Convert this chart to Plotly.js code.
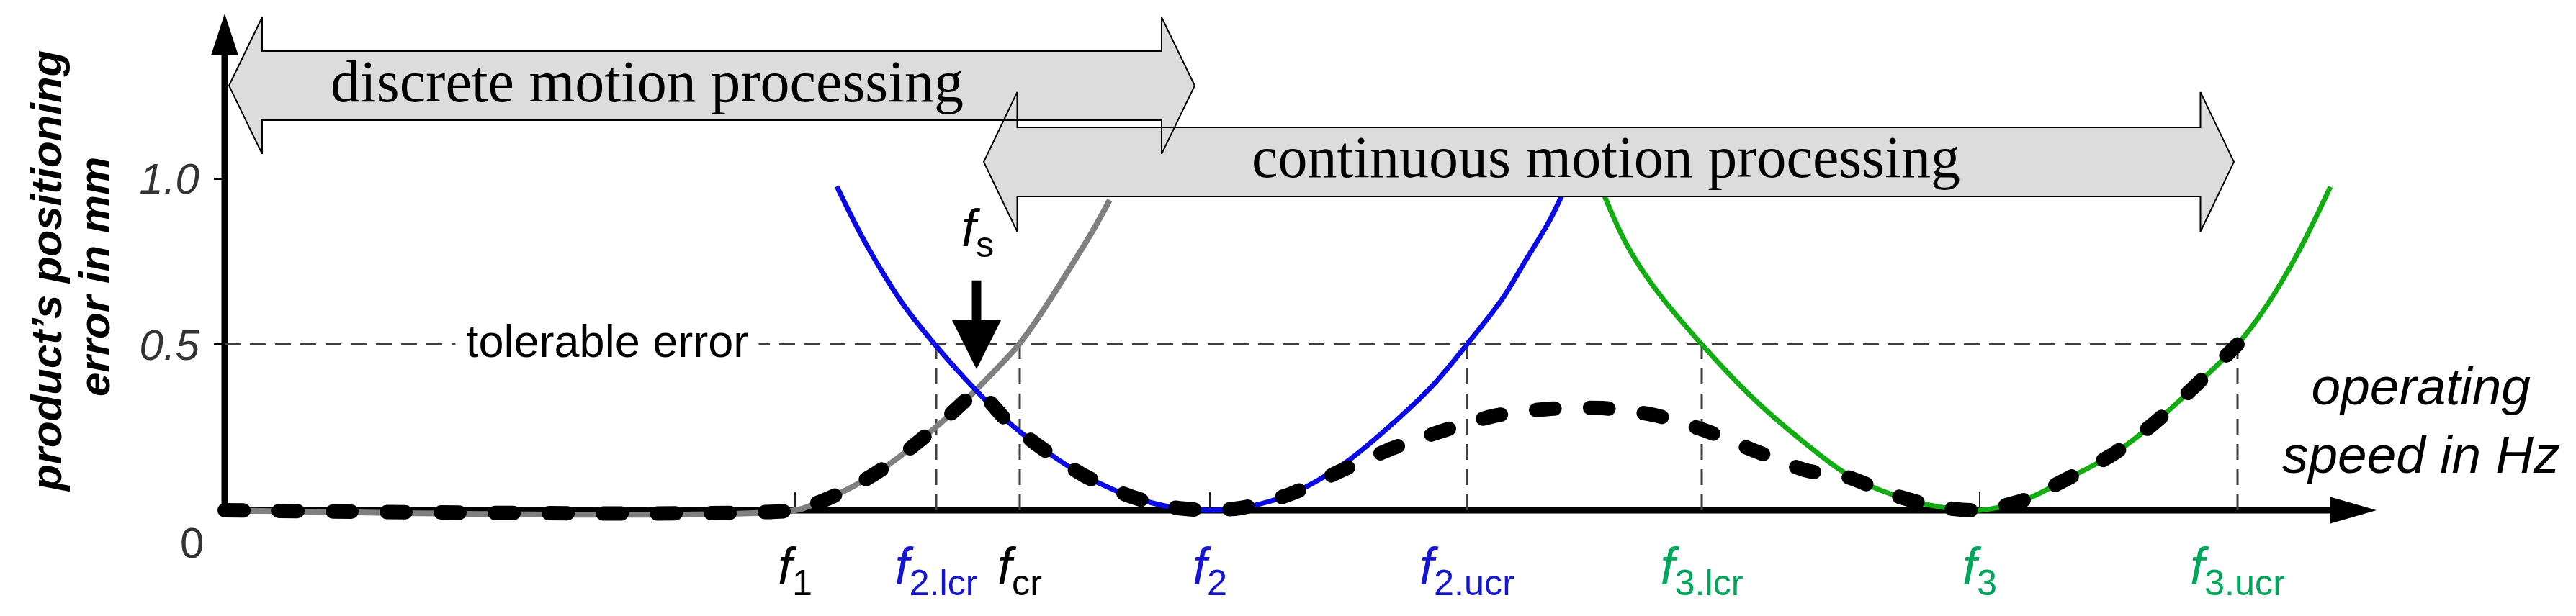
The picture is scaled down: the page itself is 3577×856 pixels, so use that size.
<!DOCTYPE html>
<html>
<head>
<meta charset="utf-8">
<script src="https://cdn.plot.ly/plotly-3.0.1.min.js"></script>
<style>
  html, body { margin: 0; padding: 0; background: #ffffff; }
  #chart { width: 3577px; height: 856px; }
</style>
</head>
<body>
<div id="chart"></div>
<script>
// ---------------- DATA ----------------
// characteristic operating speeds (schematic Hz scale)
const f1 = 79.2, f2lcr = 98.8, fs = 104.4, fcr = 110.4, f2 = 136.8,
      f2ucr = 172.5, f3lcr = 205.1, f3 = 243.7, f3ucr = 279.5;
const tolerableError = 0.5;

const tickVals = [f1, f2lcr, fcr, f2, f2ucr, f3lcr, f3, f3ucr];
const tickSubs = ['1', '2.lcr', 'cr', '2', '2.ucr', '3.lcr', '3', '3.ucr'];
const tickGroup = ['k', 'b', 'k', 'b', 'b', 'g', 'g', 'g'];

const yTickVals = [0.5, 1.0];
const yTickText = ['0.5', '1.0'];

// error curve of the 1st (discrete) resonance – grey
const grayX = [0, 79.2, 81.8, 84.8, 87.8, 90.8, 93.8, 96.8, 99.8, 102.8, 105.8, 108.8, 110.3, 112.8, 115.8, 118.8, 120.8, 122.9];
const grayY = [0, 0, 0.018, 0.045, 0.078, 0.117, 0.163, 0.215, 0.270, 0.330, 0.395, 0.463, 0.500, 0.575, 0.675, 0.780, 0.852, 0.935];

// error curve around f2 – blue
const blueX = [85.0, 87.2, 89.2, 91.8, 94.3, 98.6, 104.3, 108.6, 113.2, 119.3, 125.9, 131.6, 136.8, 140.8, 144.8, 148.8, 155.2, 161.6, 167.9, 172.5, 177.5, 180.7, 183.9, 185.7];
const blueY = [0.976, 0.879, 0.797, 0.701, 0.618, 0.500, 0.362, 0.270, 0.191, 0.105, 0.041, 0.009, 0.0, 0.006, 0.025, 0.056, 0.137, 0.250, 0.380, 0.500, 0.640, 0.755, 0.870, 0.950];

// error curve around f3 – green
const greenX = [191.5, 194.7, 198.5, 205.1, 212.6, 219.0, 225.3, 231.7, 238.1, 243.7, 250.0, 255.6, 262.3, 267.9, 272.9, 279.5, 283.5, 288.0, 292.4];
const greenY = [0.952, 0.800, 0.672, 0.500, 0.330, 0.210, 0.108, 0.046, 0.010, 0.0, 0.032, 0.092, 0.170, 0.262, 0.360, 0.500, 0.615, 0.780, 0.975];

// resulting positioning error – black dashed
const resultX = [0, 79.2, 81.8, 84.8, 87.8, 90.8, 93.8, 96.8, 99.8, 102.8, 104.4, 108.6, 113.2, 119.3, 125.9, 131.6, 136.8, 140.8, 144.8, 148.8, 151.8, 154.9, 162.2, 169.2, 176.2, 183.6, 191.2, 198.5, 205.6, 212.6, 219.6, 225.3, 231.7, 238.1, 243.7, 250.0, 255.6, 262.3, 267.9, 272.9, 279.5];
const resultY = [0, 0, 0.018, 0.045, 0.078, 0.117, 0.163, 0.215, 0.270, 0.330, 0.362, 0.270, 0.191, 0.105, 0.041, 0.009, 0.0, 0.006, 0.025, 0.056, 0.085, 0.118, 0.187, 0.240, 0.284, 0.305, 0.308, 0.287, 0.240, 0.178, 0.120, 0.100, 0.046, 0.010, 0.0, 0.032, 0.092, 0.170, 0.262, 0.360, 0.500];

// ---------------- STYLE / GEOMETRY ----------------
const COLORS = { k: '#000000', b: '#1414d2', g: '#00a65a' };
const grayCol = '#808080', blueCol = '#0a0ae6', greenCol = '#12ad12';
const SANS = 'Liberation Sans, Arial, sans-serif';
const SERIF = 'Liberation Serif, Times New Roman, serif';

const tickText = tickSubs.map((s, i) =>
  '<span style="color:' + COLORS[tickGroup[i]] + '"><i>f</i><sub>' + s + '</sub></span>');

// plot box in pixels (for paper-referenced labels)
const PL = 262, PR = 3400, PT = 0, PB = 737;
const px2paperX = p => (p - PL) / (PR - PL);
const px2paperY = p => (PB - p) / (PB - PT);

// double-headed band arrows (data units)
function bandArrow(xl, xr, ym, bodyHalf, headHalf, headLen) {
  const a = xl + headLen, b = xr - headLen;
  return 'M' + xl + ',' + ym +
    ' L' + a + ',' + (ym + headHalf) + ' L' + a + ',' + (ym + bodyHalf) +
    ' L' + b + ',' + (ym + bodyHalf) + ' L' + b + ',' + (ym + headHalf) +
    ' L' + xr + ',' + ym +
    ' L' + b + ',' + (ym - headHalf) + ' L' + b + ',' + (ym - bodyHalf) +
    ' L' + a + ',' + (ym - bodyHalf) + ' L' + a + ',' + (ym - headHalf) + ' Z';
}
const discretePath = bandArrow(0.6, 134.7, 1.280, 0.104, 0.206, 4.6);
const continuousPath = bandArrow(105.4, 279.0, 1.050, 0.104, 0.2105, 4.65);

const dashLine = { color: '#404040', width: 3, dash: '22px,13px' };

const shapes = [
  // axes
  { type: 'line', xref: 'x', yref: 'y', x0: -0.45, x1: 293.0, y0: 0, y1: 0, line: { color: '#000', width: 9 }, layer: 'below' },
  { type: 'path', xref: 'x', yref: 'y', path: 'M292.4,0.040 L298.8,0 L292.4,-0.040 Z', fillcolor: '#000', line: { width: 0 }, layer: 'below' },
  { type: 'line', xref: 'x', yref: 'y', x0: 0, x1: 0, y0: 0, y1: 1.38, line: { color: '#000', width: 9 }, layer: 'below' },
  { type: 'path', xref: 'x', yref: 'y', path: 'M-1.9,1.371 L0,1.497 L1.9,1.371 Z', fillcolor: '#000', line: { width: 0 }, layer: 'below' },
  // tolerable error line and critical speeds
  { type: 'line', xref: 'x', yref: 'y', x0: 0, x1: f3ucr, y0: tolerableError, y1: tolerableError, line: dashLine, layer: 'below' }
];
[f2lcr, fcr, f2ucr, f3lcr, f3ucr].forEach(v => shapes.push(
  { type: 'line', xref: 'x', yref: 'y', x0: v, x1: v, y0: 0, y1: tolerableError, line: dashLine, layer: 'below' }));
[f1, f2, f3].forEach(v => shapes.push(
  { type: 'line', xref: 'x', yref: 'y', x0: v, x1: v, y0: 0, y1: 0.054, line: { color: '#222', width: 2 }, layer: 'below' }));
// band arrows: fills first, then outlines
shapes.push({ type: 'path', xref: 'x', yref: 'y', path: discretePath, fillcolor: '#dcdcdc', line: { width: 0 }, layer: 'above' });
shapes.push({ type: 'path', xref: 'x', yref: 'y', path: continuousPath, fillcolor: '#dcdcdc', line: { width: 0 }, layer: 'above' });
shapes.push({ type: 'path', xref: 'x', yref: 'y', path: discretePath, fillcolor: 'rgba(0,0,0,0)', line: { color: '#000', width: 2 }, layer: 'above' });
shapes.push({ type: 'path', xref: 'x', yref: 'y', path: continuousPath, fillcolor: 'rgba(0,0,0,0)', line: { color: '#000', width: 2 }, layer: 'above' });

const annotations = [
  { xref: 'x', yref: 'y', x: 58.6, y: 1.291, text: 'discrete motion processing', showarrow: false,
    xanchor: 'center', yanchor: 'middle', font: { family: SERIF, size: 82, color: '#000' } },
  { xref: 'x', yref: 'y', x: 191.8, y: 1.063, text: 'continuous motion processing', showarrow: false,
    xanchor: 'center', yanchor: 'middle', font: { family: SERIF, size: 82, color: '#000' } },
  { xref: 'x', yref: 'y', x: 53.1, y: 0.51, text: 'tolerable error', showarrow: false, bgcolor: '#ffffff', borderpad: 14,
    xanchor: 'center', yanchor: 'middle', font: { family: SANS, size: 63, color: '#000' } },
  { xref: 'x', yref: 'y', x: fs + 0.1, y: 0.839, text: '<i>f</i><sub>s</sub>', showarrow: false,
    xanchor: 'center', yanchor: 'middle', font: { family: SANS, size: 72, color: '#000' } },
  { xref: 'x', yref: 'y', x: fs, y: 0.425, axref: 'x', ayref: 'y', ax: fs, ay: 0.696, text: '', showarrow: true,
    arrowhead: 2, arrowwidth: 13, arrowsize: 1.05, arrowcolor: '#000' },
  { xref: 'paper', yref: 'paper', x: px2paperX(266), y: px2paperY(754), text: '0', showarrow: false,
    xanchor: 'center', yanchor: 'middle', font: { family: SANS, size: 60, color: '#333' } },
  { xref: 'paper', yref: 'paper', x: px2paperX(64), y: px2paperY(377), text: 'product’s positioning', textangle: -90, showarrow: false,
    xanchor: 'center', yanchor: 'middle', font: { family: SANS, size: 60, color: '#000', weight: 'bold', style: 'italic' } },
  { xref: 'paper', yref: 'paper', x: px2paperX(132), y: px2paperY(385), text: 'error in mm', textangle: -90, showarrow: false,
    xanchor: 'center', yanchor: 'middle', font: { family: SANS, size: 60, color: '#000', weight: 'bold', style: 'italic' } },
  { xref: 'x', yref: 'y', x: 305.0, y: 0.271, text: 'operating<br>speed in Hz', showarrow: false,
    xanchor: 'center', yanchor: 'middle', font: { family: SANS, size: 73, color: '#000', style: 'italic' } }
];

const traces = [
  { x: grayX, y: grayY, type: 'scatter', mode: 'lines', line: { color: grayCol, width: 8, shape: 'spline', smoothing: 1 }, hoverinfo: 'skip' },
  { x: blueX, y: blueY, type: 'scatter', mode: 'lines', line: { color: blueCol, width: 7, shape: 'spline', smoothing: 1 }, hoverinfo: 'skip' },
  { x: greenX, y: greenY, type: 'scatter', mode: 'lines', line: { color: greenCol, width: 7, shape: 'spline', smoothing: 1 }, hoverinfo: 'skip' },
  { x: resultX, y: resultY, type: 'scatter', mode: 'lines', line: { color: '#000', width: 20, dash: '26px,49px', shape: 'spline', smoothing: 0.7 }, hoverinfo: 'skip' }
];

const layout = {
  width: 3577, height: 856,
  margin: { l: PL, r: 3577 - PR, t: PT, b: 856 - PB, pad: 0 },
  paper_bgcolor: '#ffffff', plot_bgcolor: '#ffffff',
  showlegend: false,
  font: { family: SANS, color: '#000' },
  xaxis: {
    range: [-5, 308.8], showgrid: false, zeroline: false, showline: false, ticks: '',
    tickmode: 'array', tickvals: tickVals, ticktext: tickText,
    tickfont: { family: SANS, size: 72 }, ticklabelstandoff: 2
  },
  yaxis: {
    range: [-0.0607, 1.538], anchor: 'free', position: px2paperX(312),
    showgrid: false, zeroline: false, showline: false,
    ticks: 'outside', ticklen: 15, tickwidth: 3, tickcolor: '#000',
    tickmode: 'array', tickvals: yTickVals, ticktext: yTickText,
    tickfont: { family: SANS, size: 60, color: '#333', style: 'italic' }, ticklabelstandoff: 8
  },
  shapes: shapes,
  annotations: annotations
};

Plotly.newPlot('chart', traces, layout, { displayModeBar: false, staticPlot: true }).then(() => {
  const tr = document.querySelectorAll('.scatterlayer .trace');
  const last = tr[tr.length - 1];
  if (last) last.querySelectorAll('path.js-line').forEach(p => { p.style.strokeLinecap = 'round'; });
});
</script>
</body>
</html>
